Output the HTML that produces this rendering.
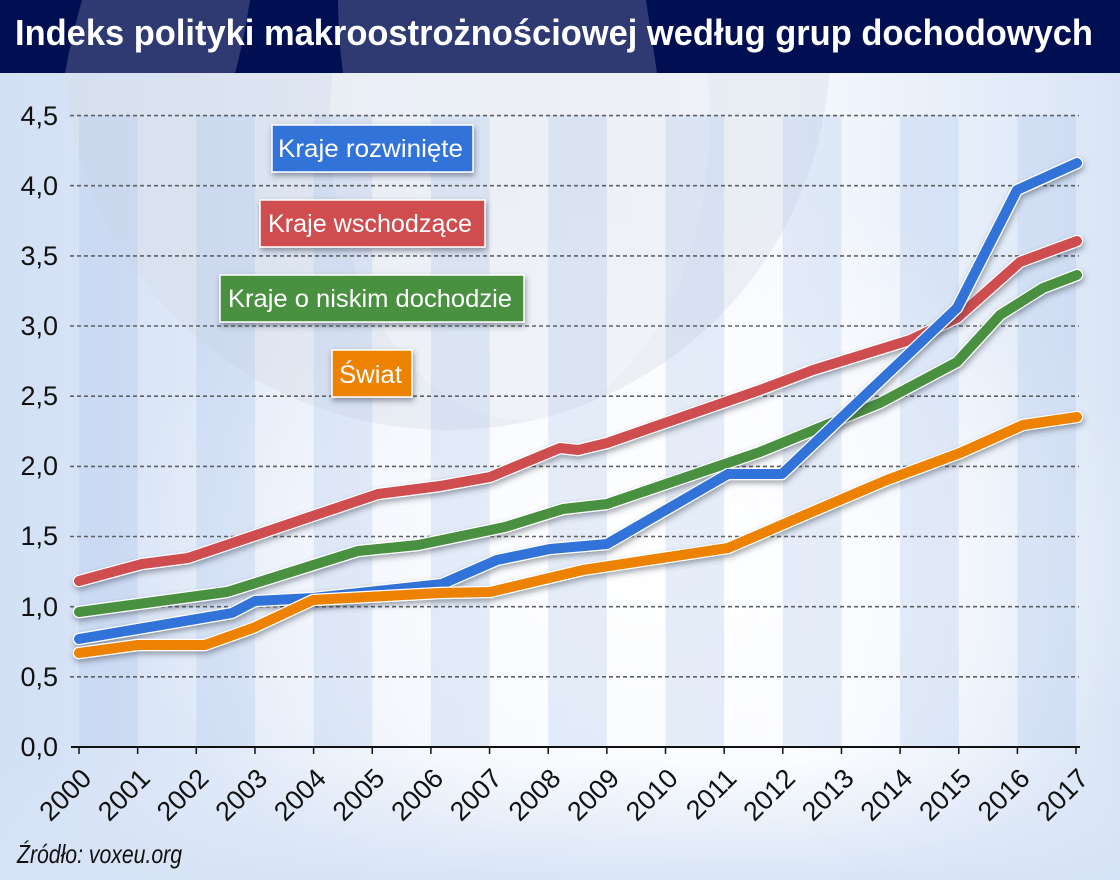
<!DOCTYPE html>
<html><head><meta charset="utf-8"><style>
html,body{margin:0;padding:0;width:1120px;height:880px;overflow:hidden;background:#e2ebf8}
svg{display:block}
</style></head><body>
<svg width="1120" height="880" viewBox="0 0 1120 880" xmlns="http://www.w3.org/2000/svg">
<defs>
<linearGradient id="bgh" x1="0" y1="0" x2="1" y2="0">
<stop offset="0" stop-color="#d2e0f5"/>
<stop offset="0.45" stop-color="#eef3fb"/>
<stop offset="0.7" stop-color="#f6f9fe"/>
<stop offset="1" stop-color="#d9e5f6"/>
</linearGradient>
<radialGradient id="glow" cx="640" cy="560" r="520" gradientUnits="userSpaceOnUse" gradientTransform="translate(640 560) scale(1 0.75) translate(-640 -560)">
<stop offset="0" stop-color="#ffffff" stop-opacity="0.95"/>
<stop offset="0.6" stop-color="#ffffff" stop-opacity="0.55"/>
<stop offset="1" stop-color="#ffffff" stop-opacity="0"/>
</radialGradient>
<linearGradient id="bottomfade" x1="0" y1="0" x2="0" y2="1">
<stop offset="0" stop-color="#dbe6f7" stop-opacity="0"/>
<stop offset="1" stop-color="#d6e3f6" stop-opacity="0.9"/>
</linearGradient>
<clipPath id="titleclip"><rect x="0" y="0" width="1120" height="73"/></clipPath>
<filter id="sh" x="-10%" y="-20%" width="120%" height="140%">
<feDropShadow dx="1" dy="3" stdDeviation="3" flood-color="#30384a" flood-opacity="0.45"/>
</filter>
<filter id="shb" x="-20%" y="-40%" width="140%" height="180%">
<feDropShadow dx="1" dy="3" stdDeviation="3" flood-color="#30384a" flood-opacity="0.5"/>
</filter>
</defs>

<rect x="0" y="0" width="1120" height="880" fill="url(#bgh)"/>
<rect x="0" y="0" width="1120" height="880" fill="url(#glow)"/>
<rect x="0" y="760" width="1120" height="120" fill="url(#bottomfade)"/>

<circle cx="447" cy="47" r="383" fill="#d8dbe6" fill-opacity="0.4"/>
<ellipse cx="520" cy="120" rx="190" ry="300" fill="#f4f6fa" fill-opacity="0.5"/>

<g fill="#a9c2ea" fill-opacity="0.28">
<rect x="79" y="115" width="58.65" height="632"/>
<rect x="196.3" y="115" width="58.65" height="632"/>
<rect x="313.6" y="115" width="58.65" height="632"/>
<rect x="430.9" y="115" width="58.65" height="632"/>
<rect x="548.2" y="115" width="58.65" height="632"/>
<rect x="665.5" y="115" width="58.65" height="632"/>
<rect x="782.8" y="115" width="58.65" height="632"/>
<rect x="900.1" y="115" width="58.65" height="632"/>
<rect x="1017.4" y="115" width="58.65" height="632"/>
</g>

<rect x="0" y="0" width="1120" height="73" fill="#000f52"/>
<g clip-path="url(#titleclip)" fill="#ffffff" fill-opacity="0.18">
<path d="M82 0 L250 0 Q244 40 235 73 L65 73 Q72 35 82 0 Z"/>
<path d="M338 0 L646 0 Q652 40 657 73 L343 73 Q338 35 338 0 Z"/>
</g>
<text x="15" y="45" fill="#ffffff" font-family="Liberation Sans, sans-serif" font-size="36" font-weight="bold" textLength="1078" lengthAdjust="spacingAndGlyphs">Indeks polityki makroostrożnościowej według grup dochodowych</text>

<g stroke="#5e6166" stroke-width="1.6" stroke-dasharray="4 3">
<line x1="70" y1="115.6" x2="1079" y2="115.6"/>
<line x1="70" y1="185.7" x2="1079" y2="185.7"/>
<line x1="70" y1="255.9" x2="1079" y2="255.9"/>
<line x1="70" y1="326" x2="1079" y2="326"/>
<line x1="70" y1="396.2" x2="1079" y2="396.2"/>
<line x1="70" y1="466.4" x2="1079" y2="466.4"/>
<line x1="70" y1="536.5" x2="1079" y2="536.5"/>
<line x1="70" y1="606.7" x2="1079" y2="606.7"/>
<line x1="70" y1="676.8" x2="1079" y2="676.8"/>
</g>

<g font-family="Liberation Sans, sans-serif" font-size="27" fill="#111" text-anchor="end">
<text x="58" y="125">4,5</text>
<text x="58" y="195">4,0</text>
<text x="58" y="265">3,5</text>
<text x="58" y="335">3,0</text>
<text x="58" y="405">2,5</text>
<text x="58" y="475">2,0</text>
<text x="58" y="545">1,5</text>
<text x="58" y="616">1,0</text>
<text x="58" y="686">0,5</text>
<text x="58" y="756">0,0</text>
</g>

<line x1="71" y1="747" x2="1080" y2="747" stroke="#111" stroke-width="2"/>
<g stroke="#111" stroke-width="1.5">
<line x1="79" y1="747" x2="79" y2="754"/>
<line x1="137.65" y1="747" x2="137.65" y2="754"/>
<line x1="196.3" y1="747" x2="196.3" y2="754"/>
<line x1="254.95" y1="747" x2="254.95" y2="754"/>
<line x1="313.6" y1="747" x2="313.6" y2="754"/>
<line x1="372.25" y1="747" x2="372.25" y2="754"/>
<line x1="430.9" y1="747" x2="430.9" y2="754"/>
<line x1="489.55" y1="747" x2="489.55" y2="754"/>
<line x1="548.2" y1="747" x2="548.2" y2="754"/>
<line x1="606.85" y1="747" x2="606.85" y2="754"/>
<line x1="665.5" y1="747" x2="665.5" y2="754"/>
<line x1="724.15" y1="747" x2="724.15" y2="754"/>
<line x1="782.8" y1="747" x2="782.8" y2="754"/>
<line x1="841.45" y1="747" x2="841.45" y2="754"/>
<line x1="900.1" y1="747" x2="900.1" y2="754"/>
<line x1="958.75" y1="747" x2="958.75" y2="754"/>
<line x1="1017.4" y1="747" x2="1017.4" y2="754"/>
<line x1="1076" y1="747" x2="1076" y2="754"/>
</g>

<g font-family="Liberation Sans, sans-serif" font-size="27" fill="#111" text-anchor="end">
<text transform="translate(93 780) rotate(-45)">2000</text>
<text transform="translate(151.65 780) rotate(-45)">2001</text>
<text transform="translate(210.3 780) rotate(-45)">2002</text>
<text transform="translate(268.95 780) rotate(-45)">2003</text>
<text transform="translate(327.6 780) rotate(-45)">2004</text>
<text transform="translate(386.25 780) rotate(-45)">2005</text>
<text transform="translate(444.9 780) rotate(-45)">2006</text>
<text transform="translate(503.55 780) rotate(-45)">2007</text>
<text transform="translate(562.2 780) rotate(-45)">2008</text>
<text transform="translate(620.85 780) rotate(-45)">2009</text>
<text transform="translate(679.5 780) rotate(-45)">2010</text>
<text transform="translate(738.15 780) rotate(-45)">2011</text>
<text transform="translate(796.8 780) rotate(-45)">2012</text>
<text transform="translate(855.45 780) rotate(-45)">2013</text>
<text transform="translate(914.1 780) rotate(-45)">2014</text>
<text transform="translate(972.75 780) rotate(-45)">2015</text>
<text transform="translate(1031.4 780) rotate(-45)">2016</text>
<text transform="translate(1090 780) rotate(-45)">2017</text>
</g>

<g fill="none" stroke-linecap="round" stroke-linejoin="round">
<g filter="url(#sh)">
<polyline stroke="#ffffff" stroke-width="12.5" points="79,581 142,564 188,558 378,494 440,486 490,477 560,448 578,450 607,443 760,390 813,370 910,340 957,318 1020,262 1077,241"/>
<polyline stroke="#cf4d4f" stroke-width="10" points="79,581 142,564 188,558 378,494 440,486 490,477 560,448 578,450 607,443 760,390 813,370 910,340 957,318 1020,262 1077,241"/>
</g>
<g filter="url(#sh)">
<polyline stroke="#ffffff" stroke-width="12.5" points="79,612 227,592 358,551 418,545 505,527 563,509 607,504 760,452 880,403 957,362 1000,315 1043,288 1077,275"/>
<polyline stroke="#4a9140" stroke-width="10" points="79,612 227,592 358,551 418,545 505,527 563,509 607,504 760,452 880,403 957,362 1000,315 1043,288 1077,275"/>
</g>
<g filter="url(#sh)">
<polyline stroke="#ffffff" stroke-width="12.5" points="79,639 232,613 255,601 313,598 442,584 497,560 550,549 607,544 728,474 782,474 957,308 1017,190 1077,163"/>
<polyline stroke="#3373d9" stroke-width="10" points="79,639 232,613 255,601 313,598 442,584 497,560 550,549 607,544 728,474 782,474 957,308 1017,190 1077,163"/>
</g>
<g filter="url(#sh)">
<polyline stroke="#ffffff" stroke-width="12.5" points="79,653 138,645 205,645 253,628 313,600 440,593 490,592 583,570 728,548 800,517 887,480 960,453 1023,425 1077,417"/>
<polyline stroke="#ed8204" stroke-width="10" points="79,653 138,645 205,645 253,628 313,600 440,593 490,592 583,570 728,548 800,517 887,480 960,453 1023,425 1077,417"/>
</g>
</g>

<g stroke="#ffffff" stroke-width="1.5" filter="url(#shb)">
<rect x="272" y="125" width="201" height="47" fill="#3373d9"/>
<rect x="260" y="200" width="225" height="47" fill="#cf4d4f"/>
<rect x="220" y="275" width="304" height="47" fill="#4a9140"/>
<rect x="332" y="350" width="80" height="47" fill="#ed8204"/>
</g>
<g font-family="Liberation Sans, sans-serif" font-size="25" fill="#ffffff">
<text x="278" y="157" textLength="185" lengthAdjust="spacingAndGlyphs">Kraje rozwinięte</text>
<text x="268" y="232" textLength="204" lengthAdjust="spacingAndGlyphs">Kraje wschodzące</text>
<text x="228" y="307" textLength="284" lengthAdjust="spacingAndGlyphs">Kraje o niskim dochodzie</text>
<text x="339" y="383" textLength="63" lengthAdjust="spacingAndGlyphs">Świat</text>
</g>

<text x="17" y="863" font-family="Liberation Sans, sans-serif" font-size="26" font-style="italic" fill="#111" textLength="165" lengthAdjust="spacingAndGlyphs">Źródło: voxeu.org</text>
</svg>
</body></html>
